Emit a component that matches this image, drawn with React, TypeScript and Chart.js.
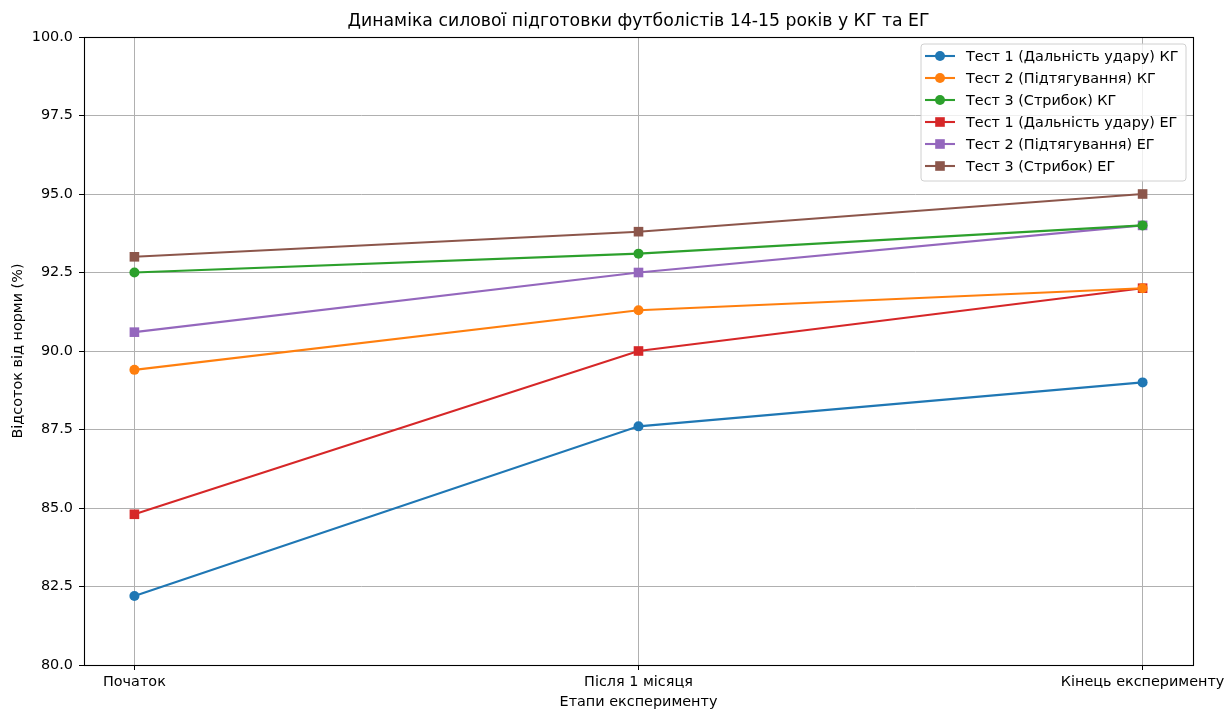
import React, { useEffect, useRef } from "react";
import { Chart, registerables } from "chart.js";

Chart.register(...registerables);

const stages = ["Початок", "Після 1 місяця", "Кінець експерименту"];
const test1KG = [82.2, 87.6, 89.0];
const test2KG = [89.4, 91.3, 92.0];
const test3KG = [92.5, 93.1, 94.0];
const test1EG = [84.8, 90.0, 92.0];
const test2EG = [90.6, 92.5, 94.0];
const test3EG = [93.0, 93.8, 95.0];

const seriesLabels = [
  "Тест 1 (Дальність удару) КГ",
  "Тест 2 (Підтягування) КГ",
  "Тест 3 (Стрибок) КГ",
  "Тест 1 (Дальність удару) ЕГ",
  "Тест 2 (Підтягування) ЕГ",
  "Тест 3 (Стрибок) ЕГ",
];
const seriesValues = [test1KG, test2KG, test3KG, test1EG, test2EG, test3EG];
const seriesColors = ["#1f77b4", "#ff7f0e", "#2ca02c", "#d62728", "#9467bd", "#8c564b"];
const seriesMarkers = ["circle", "circle", "circle", "rect", "rect", "rect"];

const titleText = "Динаміка силової підготовки футболістів 14-15 років у КГ та ЕГ";
const xTitle = "Етапи експерименту";
const yTitle = "Відсоток від норми (%)";

const FONT = "'DejaVu Sans', sans-serif";
const FS = 14.4;

const decorPlugin = {
  id: "decor",
  afterDraw(chart: any) {
    const ctx = chart.ctx;
    const a = chart.chartArea;
    ctx.save();
    // frame
    ctx.strokeStyle = "#000";
    ctx.lineWidth = 1.1;
    ctx.strokeRect(Math.round(a.left) + 0.5, Math.round(a.top) + 0.5, Math.round(a.right - a.left), Math.round(a.bottom - a.top));
    // title
    ctx.fillStyle = "#000";
    ctx.font = `17.3px ${FONT}`;
    ctx.textAlign = "center";
    ctx.textBaseline = "middle";
    ctx.fillText(titleText, (a.left + a.right) / 2, 22);
    // axis titles
    ctx.font = `${FS}px ${FONT}`;
    ctx.fillText(xTitle, (a.left + a.right) / 2, 702);
    ctx.save();
    ctx.translate(18, (a.top + a.bottom) / 2);
    ctx.rotate(-Math.PI / 2);
    ctx.fillText(yTitle, 0, 0);
    ctx.restore();
    // legend
    const lx = 921, ly = 44, lw = 265, lh = 137;
    ctx.beginPath();
    const r = 3;
    ctx.moveTo(lx + r, ly);
    ctx.lineTo(lx + lw - r, ly);
    ctx.quadraticCurveTo(lx + lw, ly, lx + lw, ly + r);
    ctx.lineTo(lx + lw, ly + lh - r);
    ctx.quadraticCurveTo(lx + lw, ly + lh, lx + lw - r, ly + lh);
    ctx.lineTo(lx + r, ly + lh);
    ctx.quadraticCurveTo(lx, ly + lh, lx, ly + lh - r);
    ctx.lineTo(lx, ly + r);
    ctx.quadraticCurveTo(lx, ly, lx + r, ly);
    ctx.closePath();
    ctx.fillStyle = "rgba(255,255,255,0.8)";
    ctx.fill();
    ctx.strokeStyle = "#d0d0d0";
    ctx.lineWidth = 1;
    ctx.stroke();
    ctx.textAlign = "left";
    ctx.textBaseline = "middle";
    ctx.font = `${FS}px ${FONT}`;
    for (let i = 0; i < seriesLabels.length; i++) {
      const y = 56 + i * 22;
      ctx.strokeStyle = seriesColors[i];
      ctx.lineWidth = 2.1;
      ctx.beginPath();
      ctx.moveTo(925, y);
      ctx.lineTo(955, y);
      ctx.stroke();
      ctx.fillStyle = seriesColors[i];
      if (seriesMarkers[i] === "circle") {
        ctx.beginPath();
        ctx.arc(940, y, 5, 0, Math.PI * 2);
        ctx.fill();
      } else {
        ctx.fillRect(940 - 4.8, y - 4.8, 9.6, 9.6);
      }
      ctx.fillStyle = "#000";
      ctx.fillText(seriesLabels[i], 966, y + 1);
    }
    ctx.restore();
  },
};

export default function App() {
  const ref = useRef<HTMLCanvasElement | null>(null);
  useEffect(() => {
    if (!ref.current) return;
    const chart = new Chart(ref.current, {
      type: "line",
      data: {
        datasets: seriesValues.map((vals, i) => ({
          label: seriesLabels[i],
          data: vals.map((v, j) => ({ x: j, y: v })),
          borderColor: seriesColors[i],
          backgroundColor: seriesColors[i],
          borderWidth: 2.1,
          pointStyle: seriesMarkers[i] as any,
          pointRadius: seriesMarkers[i] === "circle" ? 5 : 6.8,
          pointBorderWidth: 0,
          tension: 0,
          fill: false,
        })),
      },
      options: {
        animation: false,
        responsive: true,
        maintainAspectRatio: false,
        layout: { padding: { top: 37, right: 32, left: 0, bottom: 0 } },
        plugins: { legend: { display: false }, title: { display: false }, tooltip: { enabled: false } },
        scales: {
          x: {
            type: "linear",
            min: -0.1,
            max: 2.1,
            afterFit: (s: any) => { s.height = 45; s.paddingLeft = 0; s.paddingRight = 0; },
            afterBuildTicks: (s: any) => { s.ticks = stages.map((_, i) => ({ value: i })); },
            ticks: {
              callback: (v: any) => stages[Math.round(Number(v))] ?? "",
              font: { family: FONT, size: FS },
              color: "#000",
              padding: 4,
              maxRotation: 0,
              autoSkip: false,
            },
            grid: { color: "#b0b0b0", lineWidth: 1, tickLength: 5, tickColor: "#000", tickWidth: 1 },
            border: { display: false },
          },
          y: {
            min: 80,
            max: 100,
            afterFit: (s: any) => { s.width = 84; s.paddingTop = 0; s.paddingBottom = 0; },
            ticks: {
              stepSize: 2.5,
              callback: (v: any) => Number(v).toFixed(1),
              font: { family: FONT, size: FS },
              color: "#000",
              padding: 6,
            },
            grid: { color: "#b0b0b0", lineWidth: 1, tickLength: 5, tickColor: "#000", tickWidth: 1 },
            border: { display: false },
          },
        },
      },
      plugins: [decorPlugin],
    });
    return () => chart.destroy();
  }, []);
  return (
    <div style={{ position: "absolute", left: 0, top: 0, width: 1225, height: 710, background: "#fff" }}>
      <canvas ref={ref} />
    </div>
  );
}
